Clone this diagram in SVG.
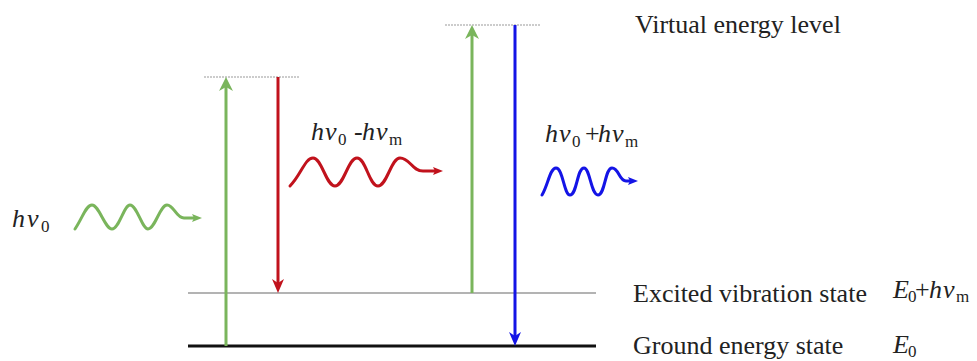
<svg xmlns="http://www.w3.org/2000/svg" width="977" height="361" viewBox="0 0 977 361" font-family="'Liberation Serif', 'DejaVu Serif', serif">
<style>
text{font-family:'Liberation Serif','DejaVu Serif',serif;fill:#222;}
.lbl{font-size:26px;}
.it{font-style:italic;}
.sub{font-size:17px;}
.wave{fill:none;stroke-width:3;stroke-linecap:round;stroke-linejoin:round;}
.arr{stroke-width:3;fill:none;}
.dot{stroke:#9a9a9a;stroke-width:1.2;stroke-dasharray:2 1;}
</style>
<defs>
<marker id="hg" viewBox="0 0 14 14" refX="6" refY="7" markerWidth="14" markerHeight="14" markerUnits="userSpaceOnUse" orient="auto"><path d="M0,0 L14,7 L0,14 L4,7 z" fill="#7ab55c"/></marker>
<marker id="hr" viewBox="0 0 14 12" refX="6" refY="6" markerWidth="14" markerHeight="12" markerUnits="userSpaceOnUse" orient="auto"><path d="M0,0 L14,6 L0,12 L4,6 z" fill="#c1121c"/></marker>
<marker id="hb" viewBox="0 0 14 12" refX="6" refY="6" markerWidth="14" markerHeight="12" markerUnits="userSpaceOnUse" orient="auto"><path d="M0,0 L14,6 L0,12 L4,6 z" fill="#1414e6"/></marker>
<marker id="wg" viewBox="0 0 10 8" refX="3" refY="4" markerWidth="10" markerHeight="8" markerUnits="userSpaceOnUse" orient="auto"><path d="M0,0 L10,4 L0,8 L2,4 z" fill="#7ab55c"/></marker>
<marker id="wr" viewBox="0 0 10 8" refX="3" refY="4" markerWidth="10" markerHeight="8" markerUnits="userSpaceOnUse" orient="auto"><path d="M0,0 L10,4 L0,8 L2,4 z" fill="#c1121c"/></marker>
<marker id="wb" viewBox="0 0 10 8" refX="3" refY="4" markerWidth="10" markerHeight="8" markerUnits="userSpaceOnUse" orient="auto"><path d="M0,0 L10,4 L0,8 L2,4 z" fill="#1414e6"/></marker>
</defs>

<g id="levels">
<line x1="188" y1="293" x2="596" y2="293" stroke="#b3b3b3" stroke-width="2"/>
<line x1="188" y1="346" x2="596" y2="346" stroke="#111" stroke-width="3"/>
<line class="dot" x1="204" y1="77" x2="300" y2="77"/>
<line class="dot" x1="445" y1="25" x2="540" y2="25"/>
</g>

<g id="connectors">
<line class="arr" x1="226" y1="346" x2="226" y2="85" stroke="#7ab55c" marker-end="url(#hg)"/>
<line class="arr" x1="278" y1="77" x2="278" y2="285" stroke="#c1121c" marker-end="url(#hr)"/>
<line class="arr" x1="472" y1="293" x2="472" y2="33" stroke="#7ab55c" marker-end="url(#hg)"/>
<line class="arr" x1="515" y1="25" x2="515" y2="338" stroke="#1414e6" marker-end="url(#hb)"/>
</g>

<g id="waves">
<path class="wave" stroke="#7ab55c" marker-end="url(#wg)" d="M75,229 C83,217 86,205 92,205 C99,205 105,229 112,229 C119,229 124,205 130,205 C137,205 142,229 148,229 C155,229 160,205 167,205 C174,205 176,218 184,218 L195,218"/>
<path class="wave" stroke="#c1121c" marker-end="url(#wr)" d="M290,186 C301,175 305,158 313,158 C322,158 326,186 335,186 C344,186 348,158 357,158 C366,158 369,186 378,186 C387,186 391,158 400,158 C410,158 412,171 423,171 L436,171"/>
<path class="wave" stroke="#1414e6" marker-end="url(#wb)" d="M542,195 C548,185 550,168 556,168 C563,168 564,195 570,195 C577,195 577,168 584,168 C590,168 591,195 598,195 C605,195 605,168 612,168 C619,168 619,181 626,181 L631,181"/>
</g>

<g id="label-hv0">
<text class="lbl" y="227"><tspan x="12" class="it">h</tspan><tspan x="27" class="it">ν</tspan><tspan x="41" dy="5" class="sub">0</tspan></text>
</g>
<g id="label-stokes">
<text class="lbl" y="140"><tspan x="311" class="it">h</tspan><tspan x="325" class="it">ν</tspan><tspan x="338" dy="5" class="sub">0</tspan><tspan x="354" dy="-5">-</tspan><tspan x="362" class="it">h</tspan><tspan x="376" class="it">ν</tspan><tspan x="389" dy="5" class="sub">m</tspan></text>
</g>
<g id="label-antistokes">
<text class="lbl" y="142"><tspan x="545" class="it">h</tspan><tspan x="559" class="it">ν</tspan><tspan x="572" dy="5" class="sub">0</tspan><tspan x="585" dy="-5">+</tspan><tspan x="598" class="it">h</tspan><tspan x="612" class="it">ν</tspan><tspan x="625" dy="5" class="sub">m</tspan></text>
</g>

<g id="label-virtual"><text class="lbl" x="635" y="33">Virtual energy level</text></g>
<g id="label-excited"><text class="lbl" x="633" y="302">Excited vibration state</text></g>
<g id="label-ground"><text class="lbl" x="633" y="354">Ground energy state</text></g>
<g id="label-e0hv"><text class="lbl" y="298"><tspan x="893" class="it">E</tspan><tspan x="908" dy="4" class="sub">0</tspan><tspan x="915" dy="-4">+</tspan><tspan x="929" class="it">h</tspan><tspan x="943" class="it">ν</tspan><tspan x="956" dy="4" class="sub">m</tspan></text></g>
<g id="label-e0"><text class="lbl" y="353"><tspan x="893" class="it">E</tspan><tspan x="908" dy="4" class="sub">0</tspan></text></g>
</svg>
